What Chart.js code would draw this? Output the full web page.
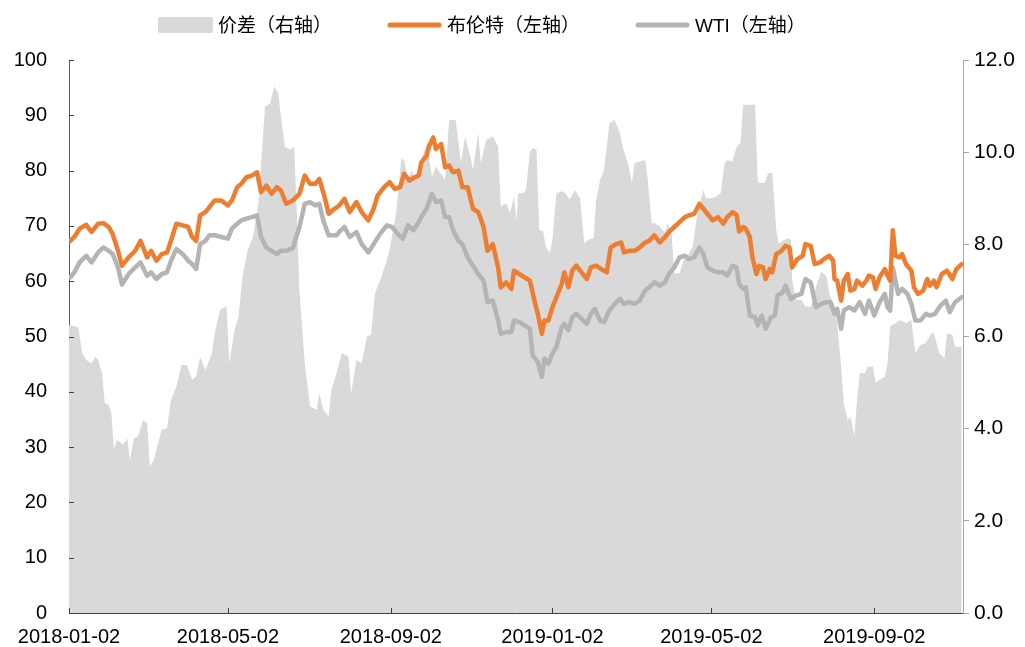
<!DOCTYPE html>
<html>
<head>
<meta charset="utf-8">
<script src="https://cdn.jsdelivr.net/npm/chart.js@4.4.1/dist/chart.umd.min.js"></script>
<style>
  html, body { margin: 0; padding: 0; background: #fff; }
  #wrap { width: 1025px; height: 647px; }
</style>
</head>
<body>
<div id="wrap"><canvas id="oilChart" width="1025" height="647"></canvas></div>
<script>
// x values are calendar days counted from 2018-01-02
const startDate = '2018-01-02';
const endDate = '2019-11-08';
const tickLabels = ['2018-01-02', '2018-05-02', '2018-09-02', '2019-01-02', '2019-05-02', '2019-09-02'];
const seriesNames = ['价差（右轴）', '布伦特（左轴）', 'WTI（左轴）'];

// spread, right axis
const spreadDays = [0,7,10,13,17,20,22,25,27,30,32,34,36,38,41,44,46,49,52,56,59,61,64,66,70,74,77,81,85,89,93,96,99,103,108,110,114,119,121,125,128,131,135,139,143,148,152,155,158,160,163,167,170,172,174,178,182,187,189,192,196,198,202,206,211,213,217,221,225,228,231,236,240,242,247,251,253,256,259,261,265,270,274,277,284,287,292,296,299,303,305,309,311,315,320,324,326,330,333,336,338,339,343,345,348,350,353,355,358,360,363,365,368,372,375,378,382,386,389,392,396,398,401,404,408,412,416,418,422,425,427,431,435,437,440,442,446,450,452,455,457,461,464,467,471,474,476,479,481,485,489,492,495,497,501,504,507,509,518,520,521,525,528,531,534,536,540,543,545,546,549,553,556,560,564,568,572,574,578,580,583,585,588,590,593,595,597,601,603,607,609,612,616,618,620,624,628,632,636,639,643,647,651,653,657,661,663,667,669,674];
const spreadVals = [6.25,6.2,5.64,5.49,5.42,5.56,5.49,5.2,4.55,4.52,4.33,3.54,3.76,3.72,3.65,3.79,3.32,3.79,3.83,4.19,4.12,3.18,3.32,3.54,3.97,4.01,4.62,4.91,5.38,5.38,5.06,5.13,5.56,5.27,5.64,6.07,6.58,6.65,5.42,6.14,6.43,7.3,7.88,8.17,8.9,10.99,11.06,11.43,11.28,10.77,10.12,10.05,10.12,8.68,7.01,5.42,4.48,4.41,4.77,4.41,4.26,4.84,5.2,5.64,5.56,4.77,5.49,5.42,6.0,6.04,6.94,7.3,7.66,7.88,8.68,9.87,9.83,9.4,9.62,9.4,9.69,10.2,9.47,9.69,9.4,10.7,10.7,9.76,10.34,9.91,9.62,10.41,9.76,10.27,10.34,10.12,8.82,8.89,8.68,9.04,8.5,9.11,9.11,9.18,10.01,10.09,10.05,8.31,8.28,7.95,7.81,8.1,9.11,9.15,9.11,8.97,9.18,9.0,8.02,8.1,8.13,8.97,9.4,9.62,10.63,10.7,10.41,10.12,9.76,9.33,9.76,9.8,9.83,9.4,8.46,8.46,8.39,8.24,8.46,8.24,7.37,7.37,7.66,7.74,7.95,8.6,8.82,9.18,9.0,9.0,9.04,9.11,9.76,9.83,9.8,10.12,10.2,11.03,11.03,9.4,9.33,9.33,9.55,9.55,8.31,8.02,8.1,8.13,8.1,7.23,6.79,6.79,6.65,6.65,7.08,7.41,7.3,6.94,6.65,6.29,5.35,4.55,4.19,4.26,3.83,4.62,5.2,5.2,5.35,5.35,4.99,5.06,5.13,5.42,6.22,6.29,6.36,6.29,6.36,5.64,5.82,5.86,6.07,6.07,5.64,5.53,6.07,6.04,5.78,5.78];

// Brent, left axis
const brentDays = [1,4,8,13,17,22,26,30,33,37,40,45,50,54,59,62,66,70,74,77,81,86,90,93,96,99,103,106,110,115,120,123,127,130,134,138,142,145,149,153,157,160,164,169,174,178,182,186,189,193,196,199,204,208,212,217,221,226,230,233,238,242,246,250,253,257,261,264,266,270,272,275,277,281,284,287,290,294,297,301,305,309,313,316,320,324,326,330,334,336,340,344,348,352,354,357,359,362,365,368,372,374,377,380,383,387,391,394,398,402,406,409,413,417,419,423,427,431,435,438,442,446,450,453,457,461,465,468,472,476,479,482,486,490,494,497,501,504,506,509,511,514,516,519,521,524,526,529,531,534,538,541,544,546,550,554,556,560,563,567,570,574,577,578,580,583,585,588,590,593,595,599,602,604,607,609,612,616,618,620,622,624,627,629,632,636,638,641,645,648,650,653,655,659,663,667,670,674];
const brentVals = [67.3,68,69.5,70.2,68.9,70.4,70.5,69.8,68.5,65.5,62.8,64.3,65.5,67.3,64.3,65.5,63.7,64.9,65.2,67.3,70.4,70.1,69.8,68,67.3,71.9,72.5,73.4,74.6,74.6,73.7,74.6,77,77.6,78.8,79.1,79.7,76.1,77.3,75.8,77,76.4,74,74.6,75.8,79.1,77.6,77.6,78.5,75.2,72.2,72.8,73.7,74.9,72.5,74.3,72.5,71,73.1,75.5,77,77.9,76.7,77,79.4,78.2,78.8,79.1,81.5,82.7,84.5,86,83.9,84.8,80.6,80.9,79.7,80,77,77,73.1,72.5,69.8,65.5,66.7,62.5,58.9,59.8,58.6,61.9,61.3,60.7,60.1,55.9,54.1,50.5,52.9,52.9,55.3,57.1,59.5,61.6,58.9,61.9,62.8,61.6,60.4,62.5,62.8,62.2,61.6,66.1,66.7,67,65.2,65.5,65.5,66.1,67,67.3,68.3,67,68,68.9,69.8,70.7,71.6,71.9,72.2,74,73.1,72.2,71,71.6,70.4,71.6,72.5,72,69,69.8,69.5,68,64.3,61.3,62.8,62.5,60.4,62.2,61.6,64.9,65.5,66.4,66.1,62.5,64,64.6,66.7,66.4,63.1,63.4,64,64.6,63.7,60.4,60.1,56.5,60.1,61.3,58.3,58.6,60.1,59.2,60.1,61,60.7,58.6,60.7,62.2,61,60.1,69.2,64.6,64.3,64.9,63.1,61.9,58.9,57.7,58.3,60.4,59.2,60.1,58.9,61.3,61.9,60.4,62.2,63.1];

// WTI, left axis
const wtiDays = [1,4,8,13,17,22,26,30,33,37,40,45,50,54,59,62,66,70,74,77,81,86,90,93,96,99,103,106,110,115,120,123,127,130,134,138,142,145,149,153,157,160,164,169,174,178,182,186,189,192,196,202,204,208,212,217,221,226,230,235,240,244,248,252,256,260,264,266,270,274,277,281,284,287,290,294,297,301,305,309,313,316,320,324,326,330,334,336,340,344,348,350,354,357,359,362,365,368,372,374,377,380,383,387,391,394,397,401,404,408,412,416,419,423,427,431,435,438,442,446,450,453,457,461,465,468,472,476,479,482,486,490,494,497,501,504,506,509,511,514,518,520,523,526,530,533,535,539,541,545,549,553,556,560,564,568,572,575,578,580,583,585,589,593,597,601,604,608,612,616,618,620,622,626,629,633,636,639,643,647,650,654,658,662,665,669,674];
const wtiVals = [60.7,61.6,63.4,64.6,63.4,65.2,66.1,65.5,64.9,62.5,59.4,61.3,62.5,63.4,61,61.6,60.4,61.3,61.6,63.7,65.8,64.9,63.7,63.1,62.2,66.7,67.3,68.3,68.3,68,67.7,69.5,70.4,71,71.3,71.6,71.9,68,66.1,65.5,64.9,65.5,65.5,66,69.8,74,74.3,73.7,74,71,68.3,68.3,68.9,69.8,68,68.9,66.7,65.2,66.7,68.6,70.1,69.8,68.6,67.7,70.1,69.2,70.7,71.6,73.1,75.8,74.3,74.6,71.6,71.6,69.2,67.3,66.7,64.3,62.8,61.3,60.1,56.2,56.5,52.9,50.5,50.8,50.8,52.9,52.6,52,51.4,46.6,45.4,42.7,46,45.1,46.9,48.1,51.7,52.3,51.1,53.5,54.1,53.2,52.3,54.1,55,52.9,52.6,54.7,55.9,56.8,55.9,56.2,55.9,56.5,58.3,58.9,59.8,59.2,59.8,61.3,62.5,64.3,64.6,64,64.3,66.1,64.9,62.5,61.9,61.6,61.6,61,62.8,62.5,59.5,58.6,58.9,53.8,53.5,52,53.8,51.4,53.5,53.8,57.4,58,59.2,56.8,57.4,57.7,60.4,59.8,55.3,55.9,56.2,56.2,54.1,55,51.4,54.7,55.3,54.7,56.2,54.1,56.5,53.8,56.2,57.7,55.3,54.7,62.5,57.7,58.6,57.7,55.9,52.9,52.9,54.1,53.8,54.1,55.6,56.5,54.4,56.2,57.1];

function dayOf(s) {
    const a = s.split('-').map(Number);
    const b = startDate.split('-').map(Number);
    return Math.round((Date.UTC(a[0], a[1] - 1, a[2]) - Date.UTC(b[0], b[1] - 1, b[2])) / 86400000);
}
function toPoints(days, vals) {
    return days.map(function(d, i) { return {x: d, y: vals[i]}; });
}

const tickDays = tickLabels.map(dayOf);
const fontFamily = '"Liberation Sans", Arial, "Noto Sans CJK SC", sans-serif';

// ticks pointing into the plot on the left and bottom axes
const innerTicks = {
    id: 'innerTicks',
    afterDraw(chart) {
        const ctx = chart.ctx;
        const y = chart.scales.y;
        const x = chart.scales.x;
        ctx.save();
        ctx.strokeStyle = '#404040';
        ctx.lineWidth = 1;
        ctx.beginPath();
        y.ticks.forEach(function(t) {
            const py = Math.round(y.getPixelForValue(t.value)) + 0.5;
            ctx.moveTo(y.right, py);
            ctx.lineTo(y.right + 5, py);
        });
        x.ticks.forEach(function(t) {
            const px = Math.round(x.getPixelForValue(t.value)) + 0.5;
            ctx.moveTo(px, x.top);
            ctx.lineTo(px, x.top - 5);
        });
        ctx.stroke();
        ctx.restore();
    }
};

// legend row across the top
const topLegend = {
    id: 'topLegend',
    afterDraw(chart) {
        const ctx = chart.ctx;
        const y = 25;
        let x = 158;
        ctx.save();
        ctx.font = '19px ' + fontFamily;
        ctx.textBaseline = 'middle';
        chart.data.datasets.forEach(function(d) {
            if (d.fill) {
                ctx.fillStyle = d.backgroundColor;
                ctx.beginPath();
                ctx.roundRect(x, y - 8, 55, 16, 2);
                ctx.fill();
            } else {
                ctx.strokeStyle = d.borderColor;
                ctx.lineWidth = 5;
                ctx.lineCap = 'round';
                ctx.beginPath();
                ctx.moveTo(x + 3, y);
                ctx.lineTo(x + 52, y);
                ctx.stroke();
            }
            ctx.fillStyle = '#000';
            ctx.fillText(d.label, x + 60, y + 2);
            x += 60 + ctx.measureText(d.label).width + 55;
        });
        ctx.restore();
    }
};

new Chart(document.getElementById('oilChart'), {
    type: 'line',
    data: {
        datasets: [{
            label: seriesNames[0],
            data: toPoints(spreadDays, spreadVals),
            yAxisID: 'y2',
            fill: 'origin',
            backgroundColor: '#d9d9d9',
            borderColor: 'rgba(0,0,0,0)',
            borderWidth: 0,
            pointRadius: 0,
            tension: 0,
            order: 2
        }, {
            label: seriesNames[1],
            data: toPoints(brentDays, brentVals),
            yAxisID: 'y',
            borderColor: '#ed7d31',
            borderWidth: 4.5,
            borderJoinStyle: 'round',
            borderCapStyle: 'round',
            pointRadius: 0,
            tension: 0,
            fill: false,
            order: 0
        }, {
            label: seriesNames[2],
            data: toPoints(wtiDays, wtiVals),
            yAxisID: 'y',
            borderColor: '#b4b4b4',
            borderWidth: 4.5,
            borderJoinStyle: 'round',
            borderCapStyle: 'round',
            pointRadius: 0,
            tension: 0,
            fill: false,
            order: 1
        }]
    },
    options: {
        responsive: false,
        animation: false,
        layout: { padding: { top: 60, left: 0, right: 0, bottom: 0 } },
        plugins: {
            legend: { display: false },
            tooltip: { enabled: false }
        },
        scales: {
            x: {
                type: 'linear',
                min: 0,
                max: dayOf(endDate),
                z: 1,
                afterBuildTicks: function(scale) {
                    scale.ticks = tickDays.map(function(v) { return {value: v}; });
                },
                afterFit: function(scale) { scale.height = 34; },
                ticks: {
                    autoSkip: false,
                    maxRotation: 0,
                    padding: 12,
                    color: '#000',
                    font: { family: fontFamily, size: 20 },
                    callback: function(v) {
                        const i = tickDays.indexOf(v);
                        return i >= 0 ? tickLabels[i] : '';
                    }
                },
                grid: { drawOnChartArea: false, drawTicks: false },
                border: { color: '#404040', width: 1 }
            },
            y: {
                position: 'left',
                min: 0,
                max: 100,
                z: 1,
                afterFit: function(scale) { scale.width = 69; },
                ticks: {
                    stepSize: 10,
                    padding: 22,
                    color: '#000',
                    font: { family: fontFamily, size: 20 }
                },
                grid: { drawOnChartArea: false, drawTicks: false },
                border: { color: '#595959', width: 1 }
            },
            y2: {
                position: 'right',
                min: 0,
                max: 12,
                z: 1,
                afterFit: function(scale) { scale.width = 62; },
                ticks: {
                    stepSize: 2,
                    padding: 5,
                    color: '#000',
                    font: { family: fontFamily, size: 21 },
                    callback: function(v) { return v.toFixed(1); }
                },
                grid: { drawOnChartArea: false, drawTicks: true, tickLength: 6, color: '#a6a6a6' },
                border: { color: '#a6a6a6', width: 1 }
            }
        }
    },
    plugins: [innerTicks, topLegend]
});
</script>
</body>
</html>
